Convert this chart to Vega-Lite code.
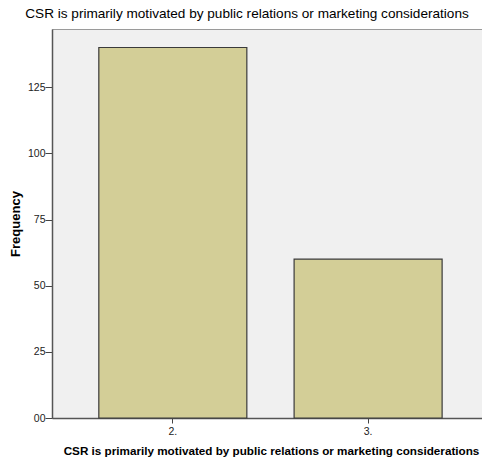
{
  "$schema": "https://vega.github.io/schema/vega-lite/v6.json",
  "autosize": "none",
  "width": 430,
  "height": 389,
  "padding": {"left": 52, "top": 29, "right": 0, "bottom": 47},
  "background": "white",
  "title": {
    "text": "CSR is primarily motivated by public relations or marketing considerations",
    "font": "Liberation Sans",
    "fontSize": 13.6,
    "fontWeight": "normal",
    "color": "#000000",
    "anchor": "middle",
    "dx": -20,
    "offset": 8
  },
  "data": {
    "values": [
      {"category": "2.", "frequency": 140},
      {"category": "3.", "frequency": 60}
    ]
  },
  "mark": {"type": "bar", "fill": "#d3ce97", "stroke": "#3a3a3a", "strokeWidth": 1.2},
  "encoding": {
    "x": {
      "field": "category",
      "type": "nominal",
      "sort": null,
      "scale": {"paddingInner": 0.242, "paddingOuter": 0.222, "align": 0.54},
      "axis": {
        "title": "CSR is primarily motivated by public relations or marketing considerations",
        "titleFont": "Liberation Sans",
        "titleFontSize": 11.7,
        "titleFontWeight": "bold",
        "titleColor": "#000000",
        "titlePadding": 9,
        "titleX": 219,
        "labelAngle": 0,
        "labelFont": "Liberation Sans",
        "labelFontSize": 10.5,
        "labelColor": "#222222",
        "labelPadding": 3,
        "tickSize": 5,
        "tickColor": "#444444",
        "domainColor": "#555555",
        "domainWidth": 1.5
      }
    },
    "y": {
      "field": "frequency",
      "type": "quantitative",
      "scale": {"domain": [0, 147], "nice": false},
      "axis": {
        "title": "Frequency",
        "titleFont": "Liberation Sans",
        "titleFontSize": 13,
        "titleFontWeight": "bold",
        "titleColor": "#000000",
        "titlePadding": 5,
        "values": [0, 25, 50, 75, 100, 125],
        "labelExpr": "datum.value == 0 ? '00' : datum.label",
        "labelFont": "Liberation Sans",
        "labelFontSize": 10.5,
        "labelColor": "#222222",
        "labelPadding": 0,
        "tickSize": 7,
        "tickColor": "#444444",
        "domainColor": "#555555",
        "domainWidth": 1.5,
        "grid": false
      }
    }
  },
  "config": {
    "view": {"fill": "#f0f0f0", "stroke": "#9a9a9a", "strokeWidth": 1}
  }
}
